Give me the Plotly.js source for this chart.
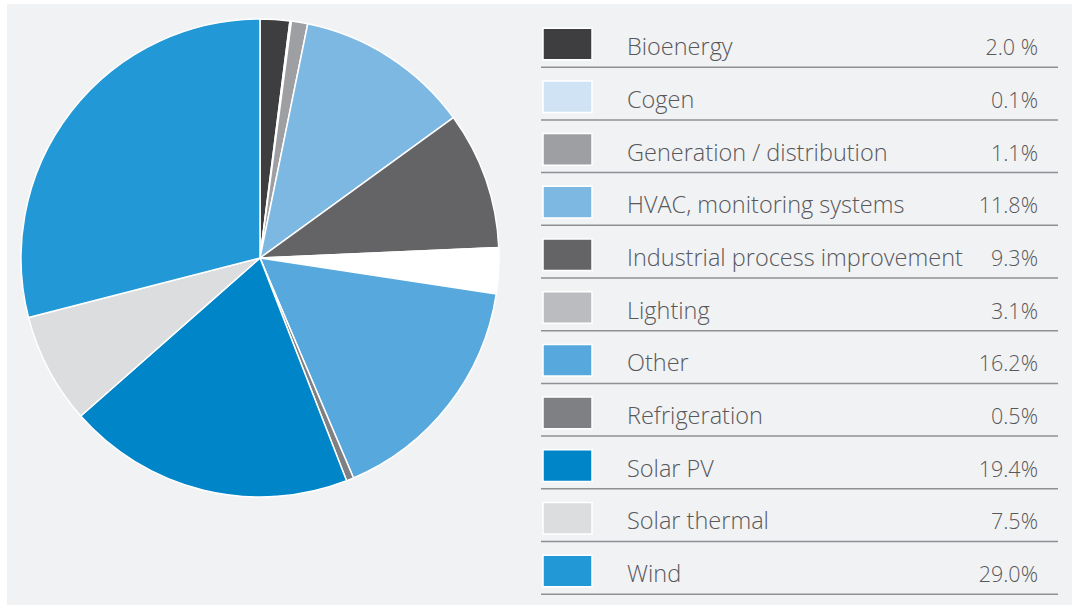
<!DOCTYPE html>
<html>
<head>
<meta charset="utf-8">
<script src="https://cdn.plot.ly/plotly-3.0.1.min.js"></script>
<style>
  html, body { margin: 0; padding: 0; background: #ffffff; }
  #chart { width: 1072px; height: 605px; }
</style>
</head>
<body>
<div id="chart"></div>
<script>
// ---- data ----
const categories = [
  "Bioenergy", "Cogen", "Generation / distribution", "HVAC, monitoring systems",
  "Industrial process improvement", "Lighting", "Other", "Refrigeration",
  "Solar PV", "Solar thermal", "Wind"
];
const shares = [2.0, 0.1, 1.1, 11.8, 9.3, 3.1, 16.2, 0.5, 19.4, 7.5, 29.0];
const shareLabels = ["2.0 %", "0.1%", "1.1%", "11.8%", "9.3%", "3.1%", "16.2%", "0.5%", "19.4%", "7.5%", "29.0%"];
const legendColors = [
  "#3e3e40", "#cfe3f4", "#9e9fa3", "#7db8e3", "#646467", "#bbbcbf",
  "#56a8dd", "#7f8084", "#0085c9", "#dcdddf", "#2398d6"
];
const pieColors = [
  "#3e3e40", "#cfe3f4", "#9e9fa3", "#7db8e3", "#646467", "#ffffff",
  "#56a8dd", "#7f8084", "#0085c9", "#dcdddf", "#2398d6"
];

// ---- layout helpers ----
const W = 1072, H = 605;
const rowIdx = categories.map((_, i) => i);
const rowPx = 52.7, firstRowPx = 44;
const yTop = -firstRowPx / rowPx;
const yBottom = (H - firstRowPx) / rowPx;
const tableX0 = 541, tableX1 = 1058;
const tableW = tableX1 - tableX0;

const labelFont = { family: "'Open Sans', sans-serif", size: 23.5, color: "#58585b", weight: 300 };
const valueFont = { family: "'Open Sans', sans-serif", size: 21.5, color: "#58585b", weight: 300 };

const pieTrace = {
  type: "pie",
  labels: categories,
  values: shares,
  sort: false,
  direction: "clockwise",
  rotation: 0,
  marker: { colors: pieColors, line: { color: "#ffffff", width: 1.5 } },
  textinfo: "none",
  hoverinfo: "label+percent",
  showlegend: false,
  domain: { x: [21 / W, 499 / W], y: [1 - 497 / H, 1 - 19 / H] }
};

const swatchTrace = {
  type: "bar",
  orientation: "h",
  y: rowIdx,
  x: categories.map(() => 49),
  base: categories.map(() => 2),
  width: 0.6,
  marker: { color: legendColors, line: { color: "#ffffff", width: 1.5 } },
  xaxis: "x", yaxis: "y",
  hoverinfo: "skip",
  showlegend: false
};

const labelTrace = {
  type: "scatter",
  mode: "text",
  x: categories.map(() => 86),
  y: rowIdx.map(i => i + 0.1),
  text: categories,
  textposition: "middle right",
  textfont: labelFont,
  xaxis: "x", yaxis: "y",
  hoverinfo: "skip",
  showlegend: false,
  cliponaxis: false
};

const valueTrace = {
  type: "scatter",
  mode: "text",
  x: categories.map(() => 497),
  y: rowIdx.map(i => i + 0.11),
  text: shareLabels,
  textposition: "middle left",
  textfont: valueFont,
  xaxis: "x", yaxis: "y",
  hoverinfo: "skip",
  showlegend: false,
  cliponaxis: false
};

const shapes = [
  { type: "rect", xref: "paper", yref: "paper", x0: 7 / W, x1: 1, y0: 0, y1: 1 - 4 / H,
    fillcolor: "#f1f2f4", line: { width: 0 }, layer: "below" }
];
rowIdx.forEach(i => {
  shapes.push({
    type: "line", xref: "x", yref: "y",
    x0: 0, x1: tableW, y0: i + 0.44, y1: i + 0.44,
    line: { color: "#8e9094", width: 1.5 }, layer: "above"
  });
});

const layout = {
  width: W, height: H,
  margin: { l: 0, r: 0, t: 0, b: 0 },
  paper_bgcolor: "#ffffff",
  plot_bgcolor: "rgba(0,0,0,0)",
  showlegend: false,
  xaxis: { domain: [tableX0 / W, tableX1 / W], range: [0, tableW], visible: false, fixedrange: true },
  yaxis: { domain: [0, 1], range: [yBottom, yTop], visible: false, fixedrange: true },
  shapes: shapes,
  bargap: 0
};

Plotly.newPlot("chart", [pieTrace, swatchTrace, labelTrace, valueTrace], layout, { displayModeBar: false, staticPlot: true });
</script>
</body>
</html>
